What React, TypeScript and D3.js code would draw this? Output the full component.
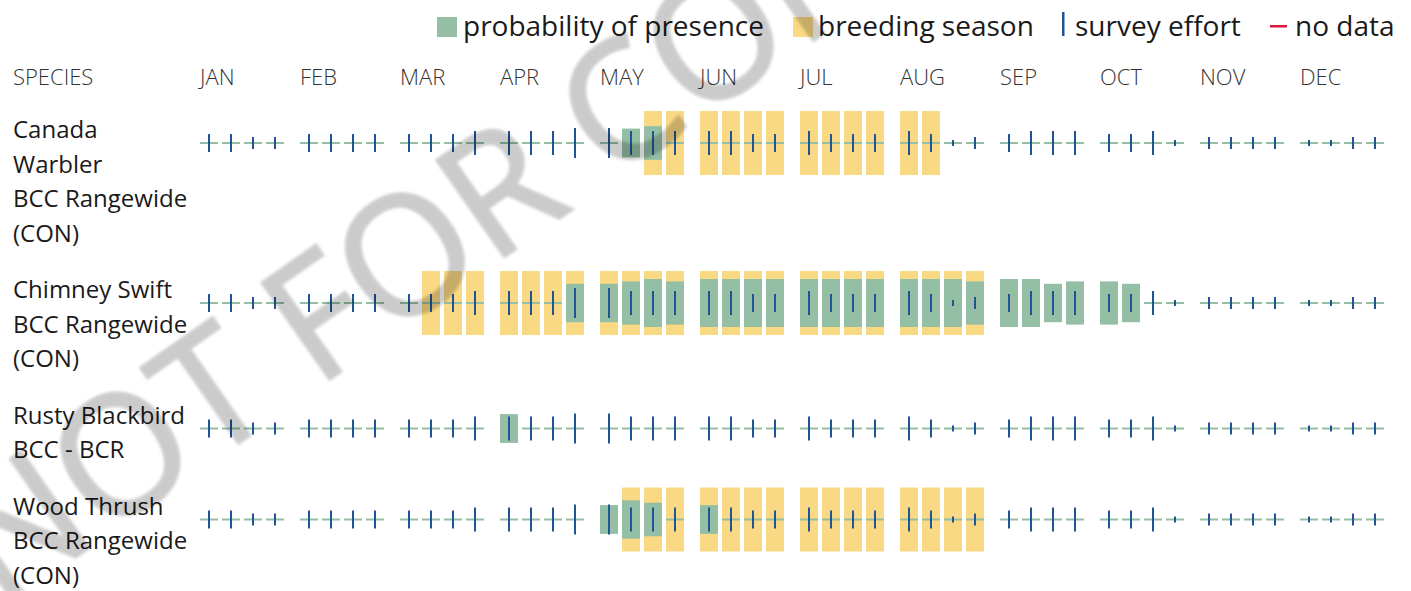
import React from 'react';
import * as d3 from 'd3';

// months and the four survey weeks inside each month
const months = ['JAN', 'FEB', 'MAR', 'APR', 'MAY', 'JUN', 'JUL', 'AUG', 'SEP', 'OCT', 'NOV', 'DEC'];
const weeks = [0, 1, 2, 3];

// species labels as they wrap in the table
const speciesLines = [
  ['Canada', 'Warbler', 'BCC Rangewide', '(CON)'],
  ['Chimney Swift', 'BCC Rangewide', '(CON)'],
  ['Rusty Blackbird', 'BCC - BCR'],
  ['Wood Thrush', 'BCC Rangewide', '(CON)'],
];

// probability of presence, 0-10, one value per week (12 months x 4 weeks)
const canadaPresence = [
  0, 0, 0, 0, 0, 0, 0, 0, 0, 0, 0, 0, 0, 0, 0, 0,
  0, 6, 7, 0, 0, 0, 0, 0, 0, 0, 0, 0, 0, 0, 0, 0,
  0, 0, 0, 0, 0, 0, 0, 0, 0, 0, 0, 0, 0, 0, 0, 0,
];
const chimneyPresence = [
  0, 0, 0, 0, 0, 0, 0, 0, 0, 0, 0, 0, 0, 0, 0, 8,
  8, 9, 10, 9, 10, 10, 10, 10, 10, 10, 10, 10, 10, 10, 10, 9,
  10, 10, 8, 9, 9, 8, 0, 0, 0, 0, 0, 0, 0, 0, 0, 0,
];
const rustyPresence = [
  0, 0, 0, 0, 0, 0, 0, 0, 0, 0, 0, 0, 6, 0, 0, 0,
  0, 0, 0, 0, 0, 0, 0, 0, 0, 0, 0, 0, 0, 0, 0, 0,
  0, 0, 0, 0, 0, 0, 0, 0, 0, 0, 0, 0, 0, 0, 0, 0,
];
const woodPresence = [
  0, 0, 0, 0, 0, 0, 0, 0, 0, 0, 0, 0, 0, 0, 0, 0,
  6, 8, 7, 0, 6, 0, 0, 0, 0, 0, 0, 0, 0, 0, 0, 0,
  0, 0, 0, 0, 0, 0, 0, 0, 0, 0, 0, 0, 0, 0, 0, 0,
];

// breeding season weeks (1 = breeding)
const canadaBreeding = [
  0, 0, 0, 0, 0, 0, 0, 0, 0, 0, 0, 0, 0, 0, 0, 0,
  0, 0, 1, 1, 1, 1, 1, 1, 1, 1, 1, 1, 1, 1, 0, 0,
  0, 0, 0, 0, 0, 0, 0, 0, 0, 0, 0, 0, 0, 0, 0, 0,
];
const chimneyBreeding = [
  0, 0, 0, 0, 0, 0, 0, 0, 0, 1, 1, 1, 1, 1, 1, 1,
  1, 1, 1, 1, 1, 1, 1, 1, 1, 1, 1, 1, 1, 1, 1, 1,
  0, 0, 0, 0, 0, 0, 0, 0, 0, 0, 0, 0, 0, 0, 0, 0,
];
const rustyBreeding = [
  0, 0, 0, 0, 0, 0, 0, 0, 0, 0, 0, 0, 0, 0, 0, 0,
  0, 0, 0, 0, 0, 0, 0, 0, 0, 0, 0, 0, 0, 0, 0, 0,
  0, 0, 0, 0, 0, 0, 0, 0, 0, 0, 0, 0, 0, 0, 0, 0,
];
const woodBreeding = [
  0, 0, 0, 0, 0, 0, 0, 0, 0, 0, 0, 0, 0, 0, 0, 0,
  0, 1, 1, 1, 1, 1, 1, 1, 1, 1, 1, 1, 1, 1, 1, 1,
  0, 0, 0, 0, 0, 0, 0, 0, 0, 0, 0, 0, 0, 0, 0, 0,
];

// survey effort, 0-10 (same for every species here)
const surveyEffort = [
  6, 6, 4, 4, 6, 6, 6, 6, 6, 6, 6, 8, 8, 8, 8, 10,
  10, 8, 8, 8, 8, 8, 6, 6, 8, 6, 6, 6, 8, 6, 2, 4,
  6, 8, 8, 8, 6, 6, 8, 2, 4, 4, 4, 4, 2, 2, 4, 4,
];

const presence = [canadaPresence, chimneyPresence, rustyPresence, woodPresence];
const breeding = [canadaBreeding, chimneyBreeding, rustyBreeding, woodBreeding];

const legendItems = ['probability of presence', 'breeding season', 'survey effort', 'no data'];

const GREEN = '#95bfa4';
const YELLOW = '#f9d983';
const BLUE = '#1f5596';
const RED = '#e0173c';
const FONT = '"Open Sans", sans-serif';

export default function App() {
  const width = 1411;
  const height = 591;

  const xMonth = d3.scaleBand<string>().domain(months).range([200, 1400]);
  const xWeek = d3.scaleBand<number>().domain(weeks).range([0, 84]).paddingInner(4 / 22);
  const hPresence = d3.scaleLinear().domain([0, 10]).range([0, 48]);
  const hEffort = d3.scaleLinear().domain([0, 10]).range([0, 30]);
  const breedH = 64;
  const lineStep = 34.5;

  // row centers from the number of label lines
  const rowY: number[] = [];
  let y = 143;
  speciesLines.forEach((lines) => {
    rowY.push(y);
    y += lines.length * lineStep + 22;
  });

  const bw = xWeek.bandwidth();

  return (
    <svg width={width} height={height} style={{position: 'absolute', left: 0, top: 0, background: '#fff'}}>
      {/* legend */}
      <g fontFamily={FONT} fontSize={28} fill="#1a1a1a">
        <rect x={437} y={17} width={20} height={20} fill={GREEN} />
        <text x={463} y={36}>{legendItems[0]}</text>
        <rect x={793} y={17} width={20} height={20} fill={YELLOW} />
        <text x={818} y={36}>{legendItems[1]}</text>
        <rect x={1062} y={12} width={2.5} height={24} fill={BLUE} />
        <text x={1075} y={36}>{legendItems[2]}</text>
        <rect x={1270} y={25} width={17} height={2.5} fill={RED} />
        <text x={1295} y={36}>{legendItems[3]}</text>
      </g>

      {/* header */}
      <g fontFamily={FONT} fontSize={22} fontWeight={300} fill="#333">
        <text x={13} y={85}>SPECIES</text>
        {months.map((m) => (
          <text key={m} x={xMonth(m)} y={85}>{m}</text>
        ))}
      </g>

      {/* rows */}
      {speciesLines.map((lines, si) => (
        <g key={si}>
          <g fontFamily={FONT} fontSize={24} fill="#1a1a1a">
            {lines.map((l, li) => (
              <text key={li} x={13} y={rowY[si] - 5 + li * lineStep}>{l}</text>
            ))}
          </g>
          {months.map((m, mi) =>
            weeks.map((w) => {
              const i = mi * 4 + w;
              const x0 = (xMonth(m) as number) + (xWeek(w) as number);
              const cy = rowY[si];
              const p = presence[si][i];
              const e = surveyEffort[i];
              return (
                <g key={i}>
                  {breeding[si][i] ? (
                    <rect x={x0} y={cy - breedH / 2} width={bw} height={breedH} fill={YELLOW} />
                  ) : null}
                  <rect x={x0} y={cy - 1} width={bw} height={2} fill={GREEN} />
                  {p > 0 ? (
                    <rect x={x0} y={cy - hPresence(p) / 2} width={bw} height={hPresence(p)} fill={GREEN} />
                  ) : null}
                  <rect x={x0 + bw / 2 - 1} y={cy - hEffort(e) / 2} width={2} height={hEffort(e)} fill={BLUE} />
                </g>
              );
            })
          )}
        </g>
      ))}

      {/* watermark */}
      <g opacity={0.2} style={{filter: 'blur(1.5px)'}}>
        <text
          x={0}
          y={610}
          transform="rotate(-35 0 610)"
          fontFamily={FONT}
          fontSize={165}
          fill="#000"
          stroke="#000"
          strokeWidth={3}
        >
          NOT FOR CONSULTATION
        </text>
      </g>
    </svg>
  );
}
